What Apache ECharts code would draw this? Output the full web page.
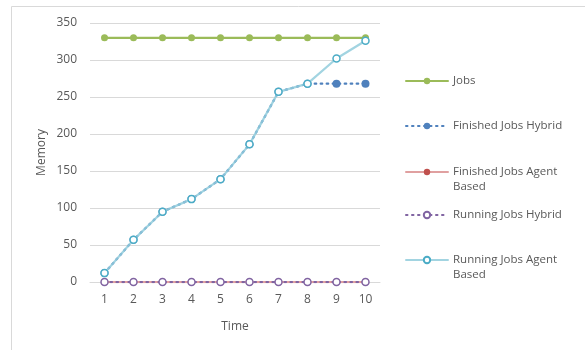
<!DOCTYPE html>
<html>
<head>
<meta charset="utf-8">
<style>
  html, body { margin: 0; padding: 0; background: #ffffff; }
  #chart { width: 585px; height: 350px; }
</style>
<script src="https://cdn.jsdelivr.net/npm/echarts@6/dist/echarts.min.js"></script>
</head>
<body>
<div id="chart"></div>
<script>
// Time steps on the x axis
const timeSteps = ['1', '2', '3', '4', '5', '6', '7', '8', '9', '10'];

// Memory per series at each time step
const jobs = [330, 330, 330, 330, 330, 330, 330, 330, 330, 330];
const finishedJobsHybrid = [12, 57, 95, 112, 139, 186, 257, 268, 268, 268];
const finishedJobsAgentBased = [0, 0, 0, 0, 0, 0, 0, 0, 0, 0];
const runningJobsHybrid = [0, 0, 0, 0, 0, 0, 0, 0, 0, 0];
const runningJobsAgentBased = [12, 57, 95, 112, 139, 186, 257, 268, 302, 326];

const seriesNames = [
  'Jobs',
  'Finished Jobs Hybrid',
  'Finished Jobs Agent Based',
  'Running Jobs Hybrid',
  'Running Jobs Agent Based'
];

// Long legend names wrap: first part beside the icon, the rest on the next line
const legendWrap = {
  'Finished Jobs Agent Based': ['Finished Jobs Agent', 'Based'],
  'Running Jobs Agent Based': ['Running Jobs Agent', 'Based']
};

const textColor = '#595959';
const fontFamily = '"Segoe UI", "Open Sans", "Liberation Sans", sans-serif';
const legendFont = 11.5;
const legendLeft = 405;
const legendTextX = 453;

const chart = echarts.init(document.getElementById('chart'), null, { renderer: 'canvas' });

function lineSeries(name, data, lineColor, markColor, opts) {
  return {
    name: name,
    type: 'line',
    data: data,
    symbol: 'circle',
    symbolSize: opts.symbolSize || 7,
    showSymbol: true,
    lineStyle: { color: lineColor, width: 2.25, type: opts.dash ? [1.5, 4.5] : 'solid', cap: 'round', opacity: opts.opacity || 1 },
    itemStyle: {
      color: opts.hollow ? '#ffffff' : markColor,
      borderColor: markColor,
      borderWidth: opts.hollow ? 1.5 : 0
    },
    emphasis: { disabled: true },
    z: opts.z || 2,
    animation: false
  };
}

// One legend block per series so each entry sits at its own height
function legendEntry(name, centerY) {
  const lineH = 15;
  return {
    orient: 'vertical',
    left: legendLeft,
    top: centerY - lineH / 2,
    padding: 0,
    itemWidth: 42,
    itemHeight: 8,
    selectedMode: false,
    data: [{ name: name }],
    textStyle: { color: textColor, fontSize: legendFont, fontFamily: fontFamily, lineHeight: lineH },
    formatter: function (n) { return legendWrap[n] ? legendWrap[n][0] : n; }
  };
}

// Second line of a wrapped legend name
function legendContinuation(name, centerY) {
  return {
    type: 'text',
    left: legendTextX,
    top: centerY + 15 - 7.5,
    silent: true,
    style: {
      text: legendWrap[name][1],
      fill: textColor,
      font: legendFont + 'px ' + fontFamily,
      lineHeight: 15
    }
  };
}

const legendCenters = [81, 126, 172, 215, 260];

const option = {
  animation: false,
  graphic: [
    {
      type: 'rect',
      shape: { x: 11.5, y: 6.5, width: 620, height: 400 },
      style: { fill: 'none', stroke: '#d9d9d9', lineWidth: 1 },
      silent: true
    },
    legendContinuation(seriesNames[2], legendCenters[2]),
    legendContinuation(seriesNames[4], legendCenters[4])
  ],
  grid: { left: 90, right: 205, top: 23, bottom: 68 },
  xAxis: {
    type: 'category',
    data: timeSteps,
    boundaryGap: true,
    name: 'Time',
    nameLocation: 'middle',
    nameGap: 39,
    nameTextStyle: { color: textColor, fontSize: 12, fontFamily: fontFamily },
    axisLine: { show: true, lineStyle: { color: '#d9d9d9', width: 1 } },
    axisTick: { show: false },
    axisLabel: { color: textColor, fontSize: 12, fontFamily: fontFamily, margin: 12 },
    splitLine: { show: false }
  },
  yAxis: {
    type: 'value',
    min: 0,
    max: 350,
    interval: 50,
    name: 'Memory',
    nameLocation: 'middle',
    nameRotate: 90,
    nameGap: 42,
    nameTextStyle: { color: textColor, fontSize: 12, fontFamily: fontFamily },
    axisLine: { show: false },
    axisTick: { show: false },
    axisLabel: { color: textColor, fontSize: 12, fontFamily: fontFamily, margin: 13 },
    splitLine: { show: true, lineStyle: { color: '#d9d9d9', width: 1 } }
  },
  legend: seriesNames.map(function (n, i) { return legendEntry(n, legendCenters[i]); }),
  series: [
    lineSeries(seriesNames[0], jobs, '#9BBB59', '#9BBB59', { z: 2 }),
    lineSeries(seriesNames[1], finishedJobsHybrid, '#4F81BD', '#4F81BD', { dash: true, z: 3, symbolSize: 8 }),
    lineSeries(seriesNames[2], finishedJobsAgentBased, '#E0A0A0', '#C0504D', { z: 4 }),
    lineSeries(seriesNames[3], runningJobsHybrid, '#8064A2', '#8064A2', { dash: true, hollow: true, z: 5 }),
    lineSeries(seriesNames[4], runningJobsAgentBased, '#92CDDC', '#4BACC6', { hollow: true, z: 6, opacity: 0.85 })
  ]
};

chart.setOption(option);
</script>
</body>
</html>
